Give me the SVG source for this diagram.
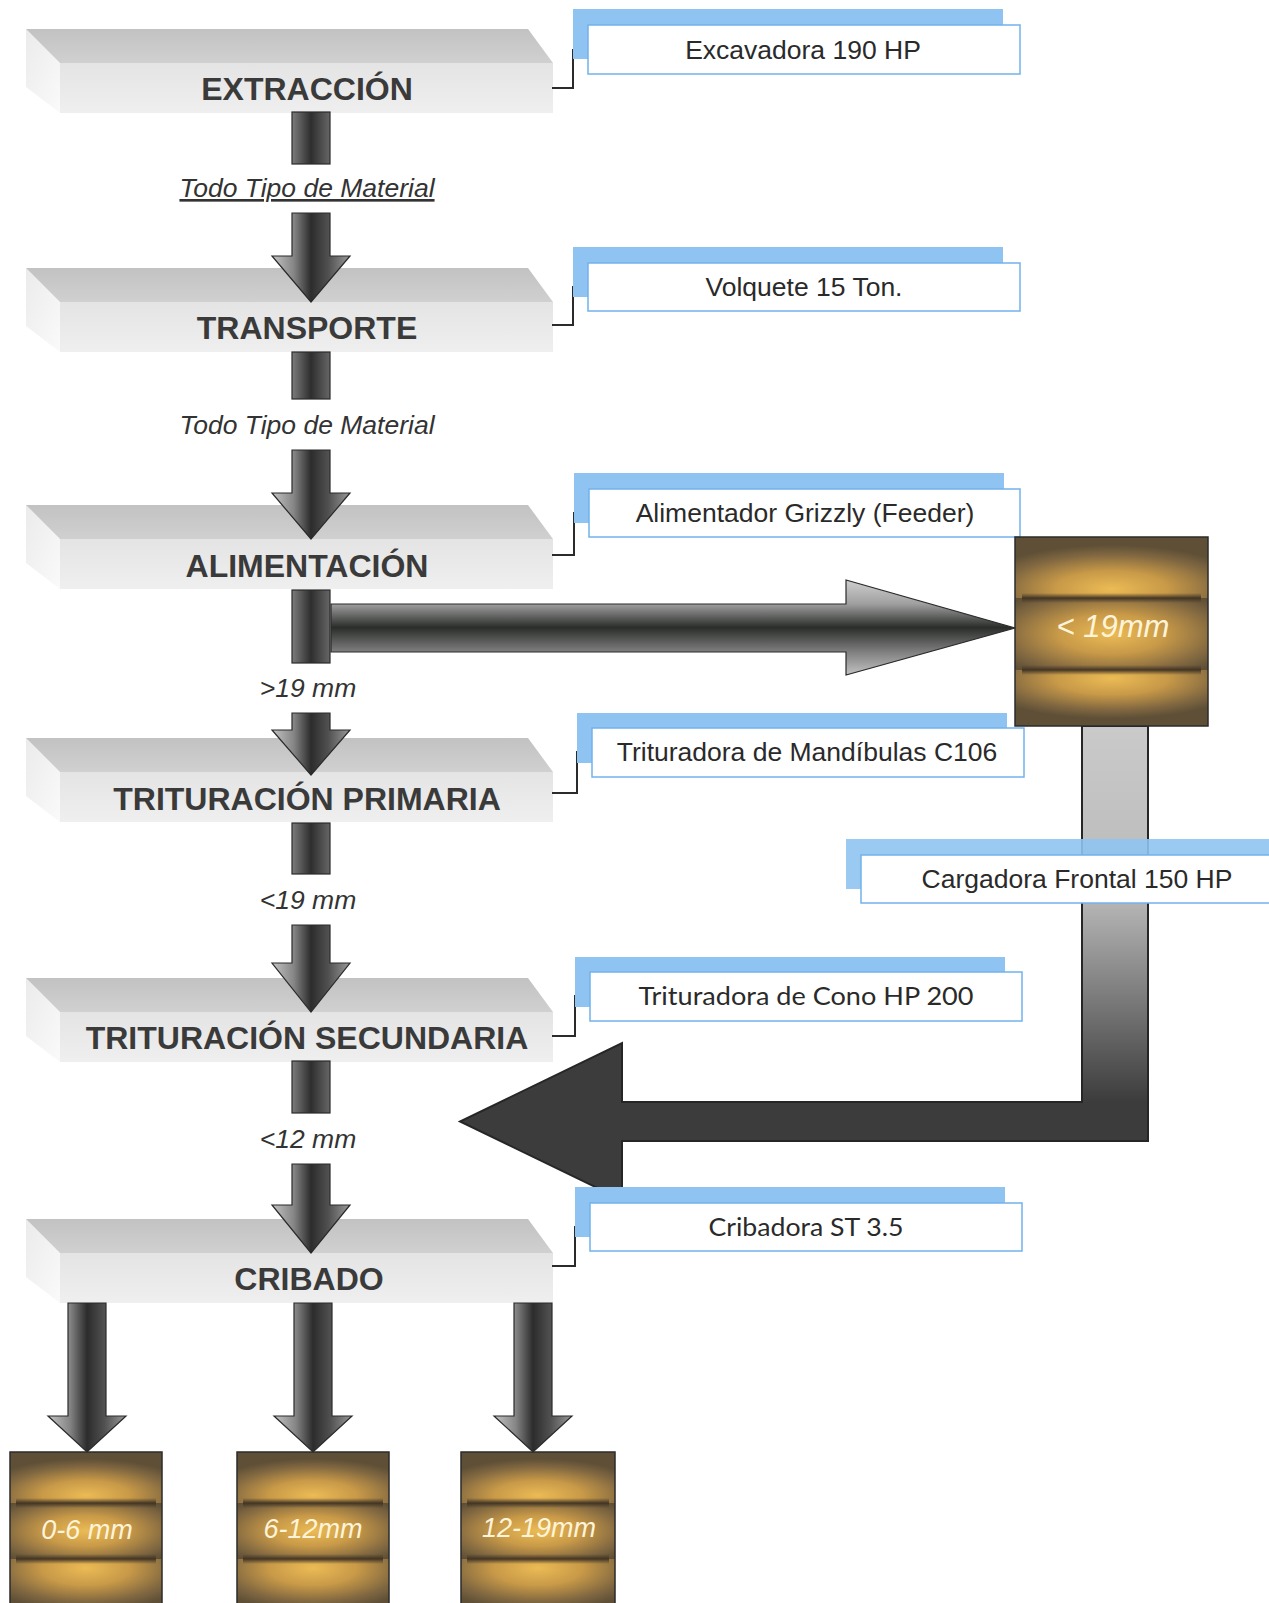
<svg xmlns="http://www.w3.org/2000/svg" xmlns:xlink="http://www.w3.org/1999/xlink" width="1269" height="1603" viewBox="0 0 1269 1603">
<style>
.stage{font-family:"Liberation Sans",Arial,sans-serif;font-weight:bold;font-size:32px;fill:#3a3a3a;text-anchor:middle}
.lbl{font-family:"Liberation Sans",Arial,sans-serif;font-style:italic;font-size:26.5px;fill:#333;text-anchor:middle}
.call{font-family:"Liberation Sans",Arial,sans-serif;font-size:26.5px;fill:#2a2a2a;text-anchor:middle}
.callc{font-family:Lato,"Liberation Sans",sans-serif;font-size:25px;fill:#2a2a2a;text-anchor:middle}
.blue{fill:#8fc3f1}
.wbox{fill:#fff;stroke:#72b2ec;stroke-width:1.5}
.brk{fill:none;stroke:#2b2b2b;stroke-width:2}
.arr{fill:url(#gArr);stroke:#2a2a2a;stroke-width:1.2}
.stem{fill:url(#gStem);stroke:#2a2a2a;stroke-width:1.2}
.box{stroke:#2b2b2b;stroke-width:1.5}
.band{fill:url(#gBand)}
.boxt{font-family:"Liberation Sans",Arial,sans-serif;font-style:italic;fill:#fff4d8;text-anchor:middle}
</style>
<defs>
<linearGradient id="gTop" x1="0" y1="0" x2="0" y2="1"><stop offset="0" stop-color="#c2c2c2"/><stop offset="1" stop-color="#d0d0d0"/></linearGradient>
<linearGradient id="gFront" x1="0" y1="0" x2="0" y2="1"><stop offset="0" stop-color="#e4e4e4"/><stop offset="1" stop-color="#efefef"/></linearGradient>
<linearGradient id="gLeft" x1="0" y1="0" x2="1" y2="1"><stop offset="0" stop-color="#ebebeb"/><stop offset="1" stop-color="#fafafa"/></linearGradient>
<linearGradient id="gArr" x1="0" y1="0" x2="1" y2="0"><stop offset="0" stop-color="#c4c4c4"/><stop offset="0.28" stop-color="#858585"/><stop offset="0.5" stop-color="#2c2c2c"/><stop offset="0.72" stop-color="#505050"/><stop offset="1" stop-color="#9a9a9a"/></linearGradient>
<linearGradient id="gStem" x1="0" y1="0" x2="1" y2="0"><stop offset="0" stop-color="#7c7c7c"/><stop offset="0.5" stop-color="#2e2e2e"/><stop offset="1" stop-color="#666"/></linearGradient>
<linearGradient id="gHArr" x1="0" y1="0" x2="0" y2="1"><stop offset="0" stop-color="#cfcfcf"/><stop offset="0.25" stop-color="#a0a0a0"/><stop offset="0.5" stop-color="#2a2d2a"/><stop offset="0.76" stop-color="#808080"/><stop offset="1" stop-color="#c2c2c2"/></linearGradient>
<linearGradient id="gRet" x1="0" y1="0" x2="0" y2="1"><stop offset="0" stop-color="#cacaca"/><stop offset="0.45" stop-color="#b9b9b9"/><stop offset="1" stop-color="#3c3c3c"/></linearGradient>
<linearGradient id="gBand" x1="0" y1="0" x2="0" y2="1"><stop offset="0" stop-color="#4a3b27" stop-opacity="0"/><stop offset="0.5" stop-color="#3f3223" stop-opacity="0.95"/><stop offset="1" stop-color="#4a3b27" stop-opacity="0"/></linearGradient>
<radialGradient id="gGlowTop" cx="0.5" cy="0.85" r="0.72"><stop offset="0" stop-color="#ebbb55"/><stop offset="0.4" stop-color="#c99a48"/><stop offset="0.8" stop-color="#7d6540"/><stop offset="1" stop-color="#5e4f36"/></radialGradient>
<radialGradient id="gGlowMid" cx="0.5" cy="0.5" r="0.68"><stop offset="0" stop-color="#ebbb55"/><stop offset="0.4" stop-color="#c99a48"/><stop offset="0.82" stop-color="#7d6540"/><stop offset="1" stop-color="#5e4f36"/></radialGradient>
<radialGradient id="gGlowBot" cx="0.5" cy="0.15" r="0.72"><stop offset="0" stop-color="#ebbb55"/><stop offset="0.4" stop-color="#c99a48"/><stop offset="0.8" stop-color="#7d6540"/><stop offset="1" stop-color="#5e4f36"/></radialGradient>
<g id="bar">
<polygon points="26,0 60,34 60,84 26,58" fill="url(#gLeft)"/>
<polygon points="26,0 528,0 553,34 60,34" fill="url(#gTop)"/>
<rect x="60" y="34" width="493" height="50" fill="url(#gFront)"/>
</g>
</defs>
<rect width="1269" height="1603" fill="#fff"/>

<g id="n-extraccion" transform="translate(0,29)"><use href="#bar"/><text class="stage" x="307" y="71">EXTRACCIÓN</text></g>
<g id="n-transporte" transform="translate(0,268)"><use href="#bar"/><text class="stage" x="307" y="71">TRANSPORTE</text></g>
<g id="n-alimentacion" transform="translate(0,505)"><use href="#bar"/><text class="stage" x="307" y="72">ALIMENTACIÓN</text></g>
<g id="n-primaria" transform="translate(0,738)"><use href="#bar"/><text class="stage" x="307" y="72">TRITURACIÓN PRIMARIA</text></g>
<g id="n-secundaria" transform="translate(0,978)"><use href="#bar"/><text class="stage" x="307" y="71">TRITURACIÓN SECUNDARIA</text></g>
<g id="n-cribado" transform="translate(0,1219)"><use href="#bar"/><text class="stage" x="309" y="71">CRIBADO</text></g>

<g id="connectors">
<rect class="stem" x="292" y="112" width="38" height="52"/>
<text class="lbl" x="307" y="197" text-decoration="underline">Todo Tipo de Material</text>
<path class="arr" d="M292,213 H330 V256 H350 L311,302 L272,256 H292 Z"/>
<rect class="stem" x="292" y="352" width="38" height="47"/>
<text class="lbl" x="307" y="434">Todo Tipo de Material</text>
<path class="arr" d="M292,450 H330 V493 H350 L311,539 L272,493 H292 Z"/>
<rect class="stem" x="292" y="590" width="38" height="73"/>
<path d="M331,604 H846 V580 L1015,628 L846,675 V652 H331 Z" fill="url(#gHArr)" stroke="#2a2a2a" stroke-width="1.2"/>
<text class="lbl" x="308" y="697">&gt;19 mm</text>
<path class="arr" d="M292,713 H330 V730 H350 L311,775 L272,730 H292 Z"/>
<rect class="stem" x="292" y="823" width="38" height="51"/>
<text class="lbl" x="308" y="909">&lt;19 mm</text>
<path class="arr" d="M292,925 H330 V963 H350 L311,1012 L272,963 H292 Z"/>
<rect class="stem" x="292" y="1061" width="38" height="52"/>
<text class="lbl" x="308" y="1148">&lt;12 mm</text>
<path class="arr" d="M292,1164 H330 V1205 H350 L311,1253 L272,1205 H292 Z"/>
<path class="arr" d="M68,1303 H106 V1416 H126 L87,1452 L48,1416 H68 Z"/>
<path class="arr" d="M294,1303 H332 V1416 H352 L313,1452 L274,1416 H294 Z"/>
<path class="arr" d="M514,1303 H552 V1416 H572 L533,1452 L494,1416 H514 Z"/>
<path d="M1082,726 H1148 V1141 H622 V1200 L460,1121.5 L622,1043 V1102 H1082 Z" fill="#3b3c3b"/>
<rect x="1082" y="726" width="66" height="376" fill="url(#gRet)"/>
<path d="M1082,726 H1148 V1141 H622 V1200 L460,1121.5 L622,1043 V1102 H1082 Z" fill="none" stroke="#262626" stroke-width="2"/>
<polyline class="brk" points="552,88 573,88 573,50 590,50"/>
<polyline class="brk" points="552,325 573,325 573,287 590,287"/>
<polyline class="brk" points="552,555 574,555 574,513 591,513"/>
<polyline class="brk" points="552,793 577,793 577,752 594,752"/>
<polyline class="brk" points="552,1036 575,1036 575,996 592,996"/>
<polyline class="brk" points="552,1266 575,1266 575,1227 592,1227"/>
</g>

<g id="c-excavadora"><rect class="blue" x="573" y="9" width="430" height="50"/><rect class="wbox" x="588" y="25" width="432" height="49"/><text class="call" x="803" y="59">Excavadora 190 HP</text></g>
<g id="c-volquete"><rect class="blue" x="573" y="247" width="430" height="50"/><rect class="wbox" x="588" y="263" width="432" height="48"/><text class="call" x="804" y="296">Volquete 15 Ton.</text></g>
<g id="c-alimentador"><rect class="blue" x="574" y="473" width="430" height="50"/><rect class="wbox" x="589" y="489" width="431" height="48"/><text class="call" x="805" y="522">Alimentador Grizzly (Feeder)</text></g>
<g id="c-mandibulas"><rect class="blue" x="577" y="713" width="430" height="50"/><rect class="wbox" x="592" y="728" width="432" height="49"/><text class="call" x="807" y="761">Trituradora de Mandíbulas C106</text></g>
<g id="c-cono"><rect class="blue" x="575" y="957" width="430" height="50"/><rect class="wbox" x="590" y="972" width="432" height="49"/><text class="callc" x="806" y="1005" textLength="335" lengthAdjust="spacingAndGlyphs">Trituradora de Cono HP 200</text></g>
<g id="c-cribadora"><rect class="blue" x="575" y="1187" width="430" height="50"/><rect class="wbox" x="590" y="1203" width="432" height="48"/><text class="callc" x="806" y="1236" textLength="195" lengthAdjust="spacingAndGlyphs">Cribadora ST 3.5</text></g>
<g id="c-cargadora"><rect class="blue" x="846" y="839" width="440" height="50" opacity="0.9"/><rect class="wbox" x="861" y="855" width="430" height="48"/><text class="call" x="1077" y="888">Cargadora Frontal 150 HP</text></g>

<g id="b-19mm">
<rect x="1015" y="537" width="193" height="61" fill="url(#gGlowTop)"/>
<rect x="1015" y="598" width="193" height="72" fill="url(#gGlowMid)"/>
<rect x="1015" y="670" width="193" height="56" fill="url(#gGlowBot)"/>
<rect class="band" x="1022" y="593" width="179" height="10"/>
<rect class="band" x="1022" y="665" width="179" height="10"/>
<rect class="box" x="1015" y="537" width="193" height="189" fill="none"/>
<text class="boxt" x="1113" y="637" font-size="31">&lt; 19mm</text>
</g>
<g id="b-0-6">
<rect x="10" y="1452" width="152" height="51" fill="url(#gGlowTop)"/>
<rect x="10" y="1503" width="152" height="56" fill="url(#gGlowMid)"/>
<rect x="10" y="1559" width="152" height="60" fill="url(#gGlowBot)"/>
<rect class="band" x="16" y="1498" width="140" height="10"/>
<rect class="band" x="16" y="1554" width="140" height="10"/>
<rect class="box" x="10" y="1452" width="152" height="170" fill="none"/>
<text class="boxt" x="87" y="1539" font-size="27">0-6 mm</text>
</g>
<g id="b-6-12">
<rect x="237" y="1452" width="152" height="51" fill="url(#gGlowTop)"/>
<rect x="237" y="1503" width="152" height="56" fill="url(#gGlowMid)"/>
<rect x="237" y="1559" width="152" height="60" fill="url(#gGlowBot)"/>
<rect class="band" x="243" y="1498" width="140" height="10"/>
<rect class="band" x="243" y="1554" width="140" height="10"/>
<rect class="box" x="237" y="1452" width="152" height="170" fill="none"/>
<text class="boxt" x="313" y="1538" font-size="27">6-12mm</text>
</g>
<g id="b-12-19">
<rect x="461" y="1452" width="154" height="51" fill="url(#gGlowTop)"/>
<rect x="461" y="1503" width="154" height="56" fill="url(#gGlowMid)"/>
<rect x="461" y="1559" width="154" height="60" fill="url(#gGlowBot)"/>
<rect class="band" x="467" y="1498" width="142" height="10"/>
<rect class="band" x="467" y="1554" width="142" height="10"/>
<rect class="box" x="461" y="1452" width="154" height="170" fill="none"/>
<text class="boxt" x="539" y="1537" font-size="27">12-19mm</text>
</g>
</svg>
